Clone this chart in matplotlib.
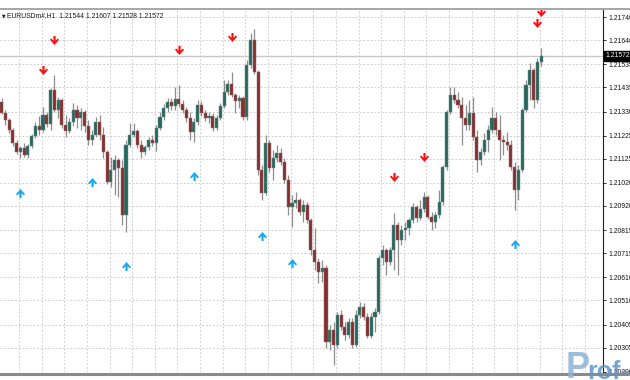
import matplotlib
matplotlib.use("Agg")
import matplotlib.pyplot as plt
import matplotlib.transforms as mtransforms
from matplotlib.path import Path
from matplotlib.lines import Line2D
import numpy as np

plt.rcParams['font.family'] = ['Liberation Sans', 'DejaVu Sans']

symbol = "EURUSDm#,H1"

opens = [1.21371, 1.21324, 1.21293, 1.21250, 1.21193, 1.21154, 1.21172, 1.21141,
         1.21180, 1.21224, 1.21267, 1.21250, 1.21315, 1.21276, 1.21423, 1.21337,
         1.21380, 1.21272, 1.21245, 1.21285, 1.21337, 1.21302, 1.21328, 1.21267,
         1.21206, 1.21228, 1.21285, 1.21228, 1.21154, 1.21024, 1.21076, 1.21120,
         1.21085, 1.20881, 1.21185, 1.21228, 1.21245, 1.21185, 1.21154, 1.21176,
         1.21206, 1.21193, 1.21258, 1.21306, 1.21345, 1.21371, 1.21354, 1.21384,
         1.21363, 1.21337, 1.21302, 1.21241, 1.21285, 1.21358, 1.21324, 1.21302,
         1.21311, 1.21258, 1.21302, 1.21354, 1.21415, 1.21449, 1.21402, 1.21376,
         1.21389, 1.21306, 1.21532, 1.21640, 1.21502, 1.21076, 1.20976, 1.21193,
         1.21085, 1.21128, 1.21150, 1.21111, 1.21033, 1.20916, 1.20933, 1.20946,
         1.20894, 1.20924, 1.20859, 1.20729, 1.20677, 1.20634, 1.20651, 1.20330,
         1.20382, 1.20317, 1.20447, 1.20395, 1.20360, 1.20417, 1.20317, 1.20447,
         1.20482, 1.20438, 1.20356, 1.20438, 1.20460, 1.20694, 1.20729, 1.20677,
         1.20729, 1.20838, 1.20772, 1.20816, 1.20824, 1.20859, 1.20916, 1.20868,
         1.20907, 1.20959, 1.20872, 1.20851, 1.20881, 1.20937, 1.21089, 1.21328,
         1.21402, 1.21380, 1.21358, 1.21302, 1.21272, 1.21324, 1.21219, 1.21120,
         1.21154, 1.21206, 1.21250, 1.21302, 1.21250, 1.21206, 1.21198, 1.21185,
         1.21089, 1.20989, 1.21076, 1.21337, 1.21445, 1.21510, 1.21380, 1.21544]

highs = [1.21389, 1.21337, 1.21302, 1.21258, 1.21206, 1.21180, 1.21193, 1.21189,
         1.21232, 1.21285, 1.21311, 1.21350, 1.21328, 1.21432, 1.21488, 1.21393,
         1.21389, 1.21315, 1.21302, 1.21367, 1.21358, 1.21345, 1.21337, 1.21293,
         1.21250, 1.21306, 1.21315, 1.21263, 1.21163, 1.21133, 1.21141, 1.21128,
         1.21120, 1.21206, 1.21280, 1.21280, 1.21254, 1.21206, 1.21185, 1.21219,
         1.21228, 1.21272, 1.21328, 1.21363, 1.21389, 1.21389, 1.21436, 1.21445,
         1.21380, 1.21350, 1.21328, 1.21302, 1.21380, 1.21376, 1.21337, 1.21328,
         1.21324, 1.21315, 1.21367, 1.21467, 1.21467, 1.21502, 1.21410, 1.21402,
         1.21397, 1.21554, 1.21671, 1.21688, 1.21510, 1.21098, 1.21228, 1.21206,
         1.21163, 1.21185, 1.21172, 1.21128, 1.21054, 1.20968, 1.20981, 1.20955,
         1.20946, 1.20937, 1.20868, 1.20824, 1.20694, 1.20686, 1.20664, 1.20404,
         1.20417, 1.20460, 1.20469, 1.20417, 1.20434, 1.20434, 1.20469, 1.20503,
         1.20499, 1.20456, 1.20456, 1.20477, 1.20707, 1.20751, 1.20738, 1.20742,
         1.20890, 1.20851, 1.20838, 1.20851, 1.20868, 1.20933, 1.20924, 1.20946,
         1.20981, 1.20968, 1.20894, 1.20894, 1.20989, 1.21098, 1.21337, 1.21436,
         1.21436, 1.21415, 1.21393, 1.21358, 1.21380, 1.21393, 1.21250, 1.21172,
         1.21237, 1.21272, 1.21350, 1.21328, 1.21315, 1.21228, 1.21241, 1.21206,
         1.21111, 1.21098, 1.21345, 1.21467, 1.21541, 1.21519, 1.21562, 1.21607]

lows = [1.21319, 1.21272, 1.21237, 1.21180, 1.21146, 1.21128, 1.21133, 1.21128,
        1.21172, 1.21215, 1.21228, 1.21241, 1.21263, 1.21250, 1.21328, 1.21302,
        1.21258, 1.21219, 1.21237, 1.21267, 1.21258, 1.21250, 1.21241, 1.21185,
        1.21185, 1.21219, 1.21206, 1.21128, 1.21015, 1.21002, 1.20968, 1.20959,
        1.20838, 1.20807, 1.21176, 1.21219, 1.21172, 1.21128, 1.21141, 1.21163,
        1.21180, 1.21159, 1.21250, 1.21293, 1.21328, 1.21337, 1.21337, 1.21350,
        1.21324, 1.21285, 1.21206, 1.21198, 1.21272, 1.21311, 1.21289, 1.21280,
        1.21245, 1.21250, 1.21293, 1.21345, 1.21402, 1.21393, 1.21324, 1.21345,
        1.21293, 1.21293, 1.21519, 1.21493, 1.21054, 1.20946, 1.20968, 1.21067,
        1.21033, 1.21111, 1.21098, 1.21020, 1.20881, 1.20829, 1.20911, 1.20881,
        1.20851, 1.20846, 1.20707, 1.20642, 1.20586, 1.20590, 1.20304, 1.20295,
        1.20230, 1.20304, 1.20382, 1.20338, 1.20347, 1.20304, 1.20308, 1.20434,
        1.20425, 1.20347, 1.20347, 1.20373, 1.20451, 1.20664, 1.20620, 1.20664,
        1.20642, 1.20620, 1.20751, 1.20772, 1.20794, 1.20846, 1.20851, 1.20859,
        1.20894, 1.20864, 1.20816, 1.20824, 1.20868, 1.20924, 1.21076, 1.21319,
        1.21367, 1.21345, 1.21185, 1.21250, 1.21250, 1.21206, 1.21067, 1.21098,
        1.21141, 1.21154, 1.21237, 1.21228, 1.21120, 1.21141, 1.21163, 1.21076,
        1.20903, 1.20946, 1.21067, 1.21328, 1.21380, 1.21345, 1.21367, 1.21528]

closes = [1.21324, 1.21293, 1.21250, 1.21193, 1.21154, 1.21172, 1.21141, 1.21180,
          1.21224, 1.21267, 1.21250, 1.21315, 1.21276, 1.21423, 1.21337, 1.21380,
          1.21272, 1.21245, 1.21285, 1.21337, 1.21302, 1.21328, 1.21267, 1.21206,
          1.21228, 1.21285, 1.21228, 1.21154, 1.21024, 1.21076, 1.21120, 1.21085,
          1.20881, 1.21185, 1.21228, 1.21245, 1.21185, 1.21154, 1.21176, 1.21206,
          1.21193, 1.21258, 1.21306, 1.21345, 1.21371, 1.21354, 1.21384, 1.21363,
          1.21337, 1.21302, 1.21241, 1.21285, 1.21358, 1.21324, 1.21302, 1.21311,
          1.21258, 1.21302, 1.21354, 1.21415, 1.21449, 1.21402, 1.21376, 1.21389,
          1.21306, 1.21532, 1.21640, 1.21502, 1.21076, 1.20976, 1.21193, 1.21085,
          1.21128, 1.21150, 1.21111, 1.21033, 1.20916, 1.20933, 1.20946, 1.20894,
          1.20924, 1.20859, 1.20729, 1.20677, 1.20634, 1.20651, 1.20330, 1.20382,
          1.20317, 1.20447, 1.20395, 1.20360, 1.20417, 1.20317, 1.20447, 1.20482,
          1.20438, 1.20356, 1.20438, 1.20460, 1.20694, 1.20729, 1.20677, 1.20729,
          1.20838, 1.20772, 1.20816, 1.20824, 1.20859, 1.20916, 1.20868, 1.20907,
          1.20959, 1.20872, 1.20851, 1.20881, 1.20937, 1.21089, 1.21328, 1.21402,
          1.21380, 1.21358, 1.21302, 1.21272, 1.21324, 1.21219, 1.21120, 1.21154,
          1.21206, 1.21250, 1.21302, 1.21250, 1.21206, 1.21198, 1.21185, 1.21089,
          1.20989, 1.21076, 1.21337, 1.21445, 1.21510, 1.21380, 1.21544, 1.21572]

down_arrow_bars = [11, 14, 47, 61, 104, 112, 142, 143]
down_arrow_prices = [1.21510, 1.21640, 1.21597, 1.21653, 1.21046, 1.21133, 1.21714, 1.21762]
up_arrow_bars = [5, 24, 33, 51, 69, 77, 136]
up_arrow_prices = [1.20976, 1.21024, 1.20660, 1.21050, 1.20790, 1.20673, 1.20755]

price_ticks = [1.21740, 1.21640, 1.21535, 1.21435, 1.21330, 1.21225, 1.21125, 1.21020,
               1.20920, 1.20815, 1.20715, 1.20610, 1.20510, 1.20405, 1.20305, 1.20200]

# ---------------------------------------------------------------- figure
W, H = 630, 380
fig = plt.figure(figsize=(W / 100, H / 100), dpi=100)
fig.patch.set_facecolor('white')
ax = fig.add_axes([0, 1 - 372 / H, 603 / W, (372 - 10) / H])
ax.set_facecolor('white')

n = len(opens)
x = np.arange(n)
o = np.array(opens); h = np.array(highs); l = np.array(lows); c = np.array(closes)

ax.set_xlim(-0.40, 159.42)
ax.set_ylim(1.201995, 1.217706)

bull_col = '#24695e'
bear_col = '#862f2f'
wick_col = '#8e8e8e'

ax.vlines(x, l, h, color=wick_col, linewidth=0.9, zorder=3)
up = c >= o
bottom = np.minimum(o, c)
height = np.maximum(np.abs(c - o), 0.00003)
ax.bar(x[up], height[up], bottom=bottom[up], width=0.82, color=bull_col,
       edgecolor='#7d8a88', linewidth=0.35, zorder=4)
ax.bar(x[~up], height[~up], bottom=bottom[~up], width=0.82, color=bear_col,
       edgecolor='#8a7070', linewidth=0.35, zorder=4)

# arrows (fractal markers)
down_path = Path([(-0.12, 0.5), (0.12, 0.5), (0.12, -0.02), (0.36, 0.22), (0.5, 0.08),
                  (0.0, -0.5), (-0.5, 0.08), (-0.36, 0.22), (-0.12, -0.02), (-0.12, 0.5)],
                 closed=True)
up_path = Path([(px, -py) for px, py in down_path.vertices], closed=True)
ax.plot(down_arrow_bars, down_arrow_prices, linestyle='none', marker=down_path,
        markersize=6.5, color='#ff1010', markeredgewidth=0, zorder=6)
ax.plot(up_arrow_bars, up_arrow_prices, linestyle='none', marker=up_path,
        markersize=6.5, color='#18aaf5', markeredgewidth=0, zorder=6)

# grid
ax.set_xticks(np.arange(4.64, 159, 6))
ax.set_yticks(price_ticks)
ax.set_yticklabels([f'{v:.5f}' for v in price_ticks])
ax.grid(True, linestyle=(0, (2.2, 2.2)), color='#c6c6c6', linewidth=0.6, zorder=0)
ax.tick_params(axis='x', length=0, labelbottom=False)
ax.yaxis.tick_right()
ax.tick_params(axis='y', length=2.5, width=0.6, pad=1.2, labelsize=4.9,
               colors='#111111', direction='out')
for s in ['left', 'top', 'bottom']:
    ax.spines[s].set_visible(False)
ax.spines['right'].set_linewidth(0.8)
ax.spines['right'].set_color('#202020')

# current price line and label
last = closes[-1]
ax.axhline(last, color='#c8c8c8', linewidth=1.0, zorder=1)
trans = mtransforms.blended_transform_factory(ax.transAxes, ax.transData)
ax.text(1.004, last, f'{last:.5f}', transform=trans, ha='left', va='center',
        fontsize=4.9, color='white', zorder=10, clip_on=False,
        bbox=dict(boxstyle='square,pad=0.22', fc='black', ec='black'))

# header
header = f'{symbol}  {opens[-1]:.5f} {highs[-1]:.5f} {lows[-1]:.5f} {closes[-1]:.5f}'
fig.text(7 / W, 1 - 15.5 / H, header, fontsize=4.9, va='center', ha='left', color='#1a1a1a')
fig.text(1.5 / W, 1 - 15.5 / H, '\u25BC', fontsize=3.3, va='center', ha='left',
         color='#1a1a1a', family=['DejaVu Sans'])

# frame lines
fig.add_artist(Line2D([0, 1], [1 - 9 / H, 1 - 9 / H], transform=fig.transFigure,
                      color='#a6a6a6', linewidth=1.4))
fig.add_artist(Line2D([0, 1], [1 - 373.8 / H, 1 - 373.8 / H], transform=fig.transFigure,
                      color='#8a8a8a', linewidth=2.2))

# watermark
fig.text(566 / W, 1 - 378 / H, 'P', fontsize=26, fontweight='bold',
         color='#8db3d8', alpha=0.85, va='baseline', ha='left', zorder=20)
fig.text(587 / W, 1 - 379 / H, 'rof-F', fontsize=18, fontweight='bold',
         color='#5f95c8', alpha=0.85, va='baseline', ha='left', zorder=20)

fig.savefig('out.png', dpi=100)
